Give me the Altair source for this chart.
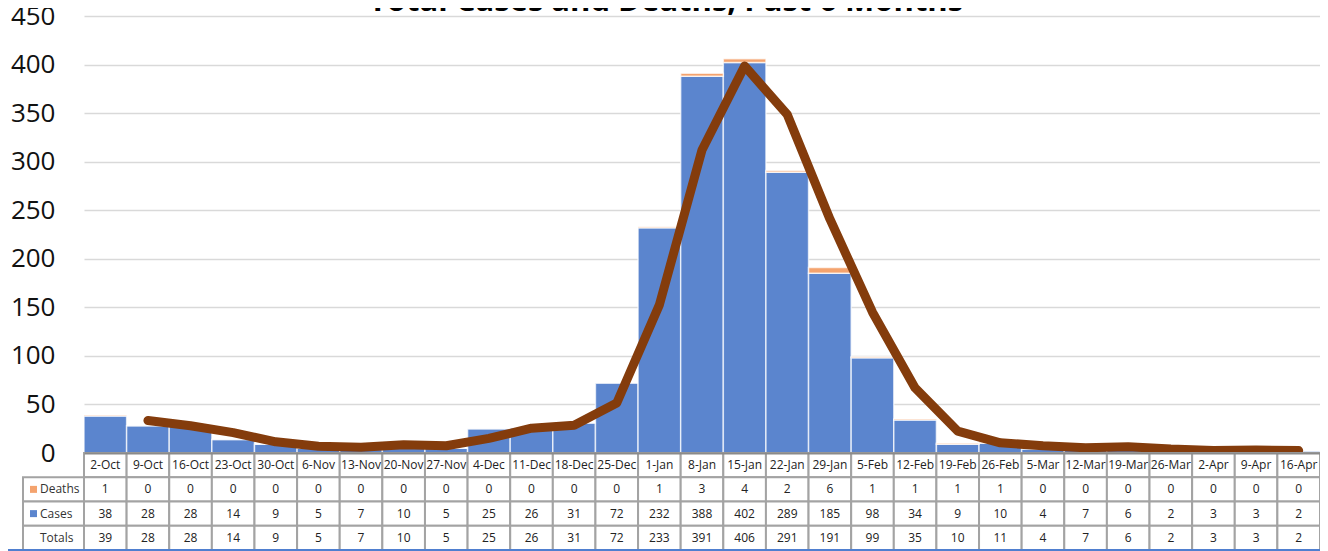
import altair as alt
import pandas as pd

title_text = "Total Cases and Deaths, Past 6 Months"
dates = ["2-Oct", "9-Oct", "16-Oct", "23-Oct", "30-Oct", "6-Nov", "13-Nov", "20-Nov",
         "27-Nov", "4-Dec", "11-Dec", "18-Dec", "25-Dec", "1-Jan", "8-Jan", "15-Jan",
         "22-Jan", "29-Jan", "5-Feb", "12-Feb", "19-Feb", "26-Feb", "5-Mar", "12-Mar",
         "19-Mar", "26-Mar", "2-Apr", "9-Apr", "16-Apr"]
deaths = [1, 0, 0, 0, 0, 0, 0, 0, 0, 0, 0, 0, 0, 1, 3, 4, 2, 6, 1, 1, 1, 1, 0, 0, 0, 0, 0, 0, 0]
cases = [38, 28, 28, 14, 9, 5, 7, 10, 5, 25, 26, 31, 72, 232, 388, 402, 289, 185, 98, 34,
         9, 10, 4, 7, 6, 2, 3, 3, 2]
totals = [39, 28, 28, 14, 9, 5, 7, 10, 5, 25, 26, 31, 72, 233, 391, 406, 291, 191, 99, 35,
          10, 11, 4, 7, 6, 2, 3, 3, 2]
trend_dates = dates[1:]
trend = [33.5, 28, 21, 11.5, 7, 6, 8.5, 7.5, 15, 25.5, 28.5, 51.5, 152.5, 312, 398.5,
         348.5, 241, 145, 67, 22.5, 10.5, 7.5, 5.5, 6.5, 4, 2.5, 3, 2.5]
series = ["Cases", "Deaths"]
row_names = ["hdr", "Deaths", "Cases", "Totals"]
y_ticks = [0, 50, 100, 150, 200, 250, 300, 350, 400, 450]

BLUE = "#5B85CE"
ORANGE = "#F4A36E"
BROWN = "#843C0C"
FONT = "Open Sans"
W, H = 1236, 437

xscale = alt.Scale(domain=dates, paddingInner=0, paddingOuter=0)
yscale = alt.Scale(domain=[0, 450], nice=False)

bar_df = pd.DataFrame({
    "date": dates * 2,
    "series": ["Cases"] * len(dates) + ["Deaths"] * len(dates),
    "value": cases + deaths,
    "ord": [0] * len(dates) + [1] * len(dates),
})
trend_df = pd.DataFrame({"date": trend_dates, "avg": trend})

bars = alt.Chart(bar_df).mark_bar(stroke="#ffffff", strokeOpacity=0.7, strokeWidth=1.5).encode(
    x=alt.X("date:N", sort=dates, scale=xscale,
            axis=alt.Axis(labels=False, ticks=False, title=None, domainColor="#8a8a8a",
                          domainWidth=2, grid=False, zindex=2)),
    y=alt.Y("value:Q", stack="zero", scale=yscale,
            axis=alt.Axis(values=y_ticks, title=None, domain=False, ticks=False,
                          labelFont=FONT, labelFontSize=26, labelColor="#111111",
                          labelPadding=29, gridColor="#d9d9d9", gridWidth=1.5, zindex=0)),
    color=alt.Color("series:N", scale=alt.Scale(domain=series, range=[BLUE, ORANGE]), legend=None),
    order=alt.Order("ord:Q"),
)

line = alt.Chart(trend_df).mark_line(color=BROWN, strokeWidth=9, strokeCap="round",
                                     strokeJoin="round").encode(
    x=alt.X("date:N", sort=dates, scale=xscale),
    y=alt.Y("avg:Q", scale=yscale),
)

title = alt.Chart(alt.Data(values=[{"t": title_text}])).mark_text(
    font=FONT, fontSize=31, fontWeight="bold", color="#000000", align="center",
    baseline="alphabetic").encode(
    x=alt.value(582), y=alt.value(-5), text="t:N")

main = alt.layer(bars, line, title)

# data table
tab_rows = []
for i, d in enumerate(dates):
    tab_rows.append({"date": d, "row": "hdr", "txt": d})
    tab_rows.append({"date": d, "row": "Deaths", "txt": str(deaths[i])})
    tab_rows.append({"date": d, "row": "Cases", "txt": str(cases[i])})
    tab_rows.append({"date": d, "row": "Totals", "txt": str(totals[i])})
tab_df = pd.DataFrame(tab_rows)

yrow = alt.Y("row:N", sort=row_names,
             scale=alt.Scale(domain=row_names, range=[H, H + 97], paddingInner=0, paddingOuter=0),
             axis=None)

cells = alt.Chart(tab_df).mark_rect(fill="#ffffff", stroke="#a3a3a3", strokeWidth=2).encode(
    x=alt.X("date:N", sort=dates, scale=xscale), y=yrow)

cell_text = alt.Chart(tab_df).mark_text(font=FONT, fontSize=12, color="#222222").encode(
    x=alt.X("date:N", sort=dates, scale=xscale), y=yrow, text="txt:N")

label_df = pd.DataFrame({"row": row_names[1:], "lab": row_names[1:]})
label_cells = alt.Chart(label_df).mark_rect(fill="#ffffff", stroke="#a3a3a3", strokeWidth=2).encode(
    x=alt.value(-61), x2=alt.value(0), y=yrow)
label_text = alt.Chart(label_df).mark_text(font=FONT, fontSize=12, color="#333333",
                                           align="left").encode(
    x=alt.value(-44), y=yrow, text="lab:N")
swatch_df = pd.DataFrame({"row": series, "series": series})
swatches = alt.Chart(swatch_df).mark_square(size=49, opacity=1).encode(
    x=alt.value(-50.5), y=yrow,
    color=alt.Color("series:N", scale=alt.Scale(domain=series, range=[BLUE, ORANGE]), legend=None))

bottom_line = alt.Chart(alt.Data(values=[{"v": 1}])).mark_rule(color="#4F7FD0", strokeWidth=2).encode(
    x=alt.value(-76), x2=alt.value(W), y=alt.value(H + 97))

table = alt.layer(cells, cell_text, label_cells, label_text, swatches, bottom_line)

chart = alt.layer(main, table).resolve_scale(y="independent").properties(
    width=W, height=H,
    autosize=alt.AutoSizeParams(type="none"),
    padding={"left": 76, "top": 8, "right": 0, "bottom": 98},
).configure_view(stroke=None)

chart.save("out.html", embed_options={"renderer": "svg", "actions": False})
